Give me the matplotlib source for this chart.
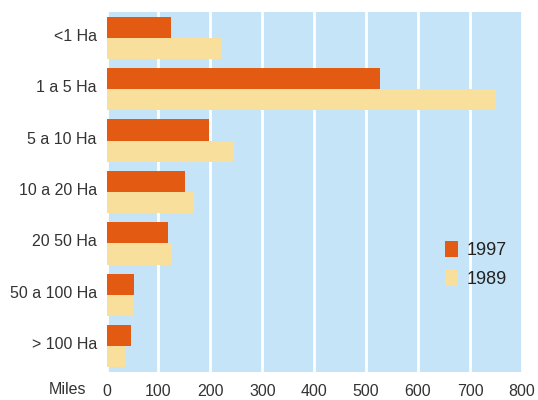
import matplotlib
matplotlib.use("Agg")
import matplotlib.pyplot as plt
import matplotlib.transforms as mtransforms
import numpy as np

categories = ["<1 Ha", "1 a 5 Ha", "5 a 10 Ha", "10 a 20 Ha", "20 50 Ha", "50 a 100 Ha", "> 100 Ha"]
values_1997 = [124, 527, 198, 151, 118, 52, 48]
values_1989 = [223, 750, 245, 169, 127, 52, 37]
x_ticks = [0, 100, 200, 300, 400, 500, 600, 700, 800]

plt.rcParams['font.family'] = ['Liberation Sans', 'DejaVu Sans']

fig = plt.figure(figsize=(5.38, 4.0), dpi=100)
ax = fig.add_axes([0.198, 0.07, 0.772, 0.90])
ax.set_facecolor("#C5E4F8")

y = np.arange(len(categories))
h = 0.41
ax.barh(y - h / 2, values_1997, height=h, color="#E35B12", label="1997", zorder=3)
ax.barh(y + h / 2, values_1989, height=h, color="#F8DF9B", label="1989", zorder=3)

ax.set_ylim(len(categories) - 0.5, -0.5)
ax.set_xlim(0, 800)
ax.set_yticks(y)
ax.set_yticklabels(categories)
ax.set_xticks(x_ticks)
ax.tick_params(length=0, labelsize=11.5, colors="#333333", pad=7)
ax.tick_params(axis='x', pad=9)
offset = mtransforms.ScaledTranslation(0, 3 / 100, fig.dpi_scale_trans)
for lbl in ax.get_yticklabels():
    lbl.set_transform(lbl.get_transform() + offset)
for s in ax.spines.values():
    s.set_visible(False)
ax.grid(axis='x', color="white", linewidth=2.0, zorder=1)
ax.set_axisbelow(True)

fig.text(0.125, 0.025, "Miles", fontsize=11.5, color="#333333", ha="center", va="center")

leg = ax.legend(loc="upper left", bbox_to_anchor=(0.775, 0.41), frameon=False,
                fontsize=13, handlelength=0.75, handleheight=1.0, handletextpad=0.45,
                labelspacing=0.6)
for t in leg.get_texts():
    t.set_color("#222222")

fig.savefig("out.png", dpi=100)
